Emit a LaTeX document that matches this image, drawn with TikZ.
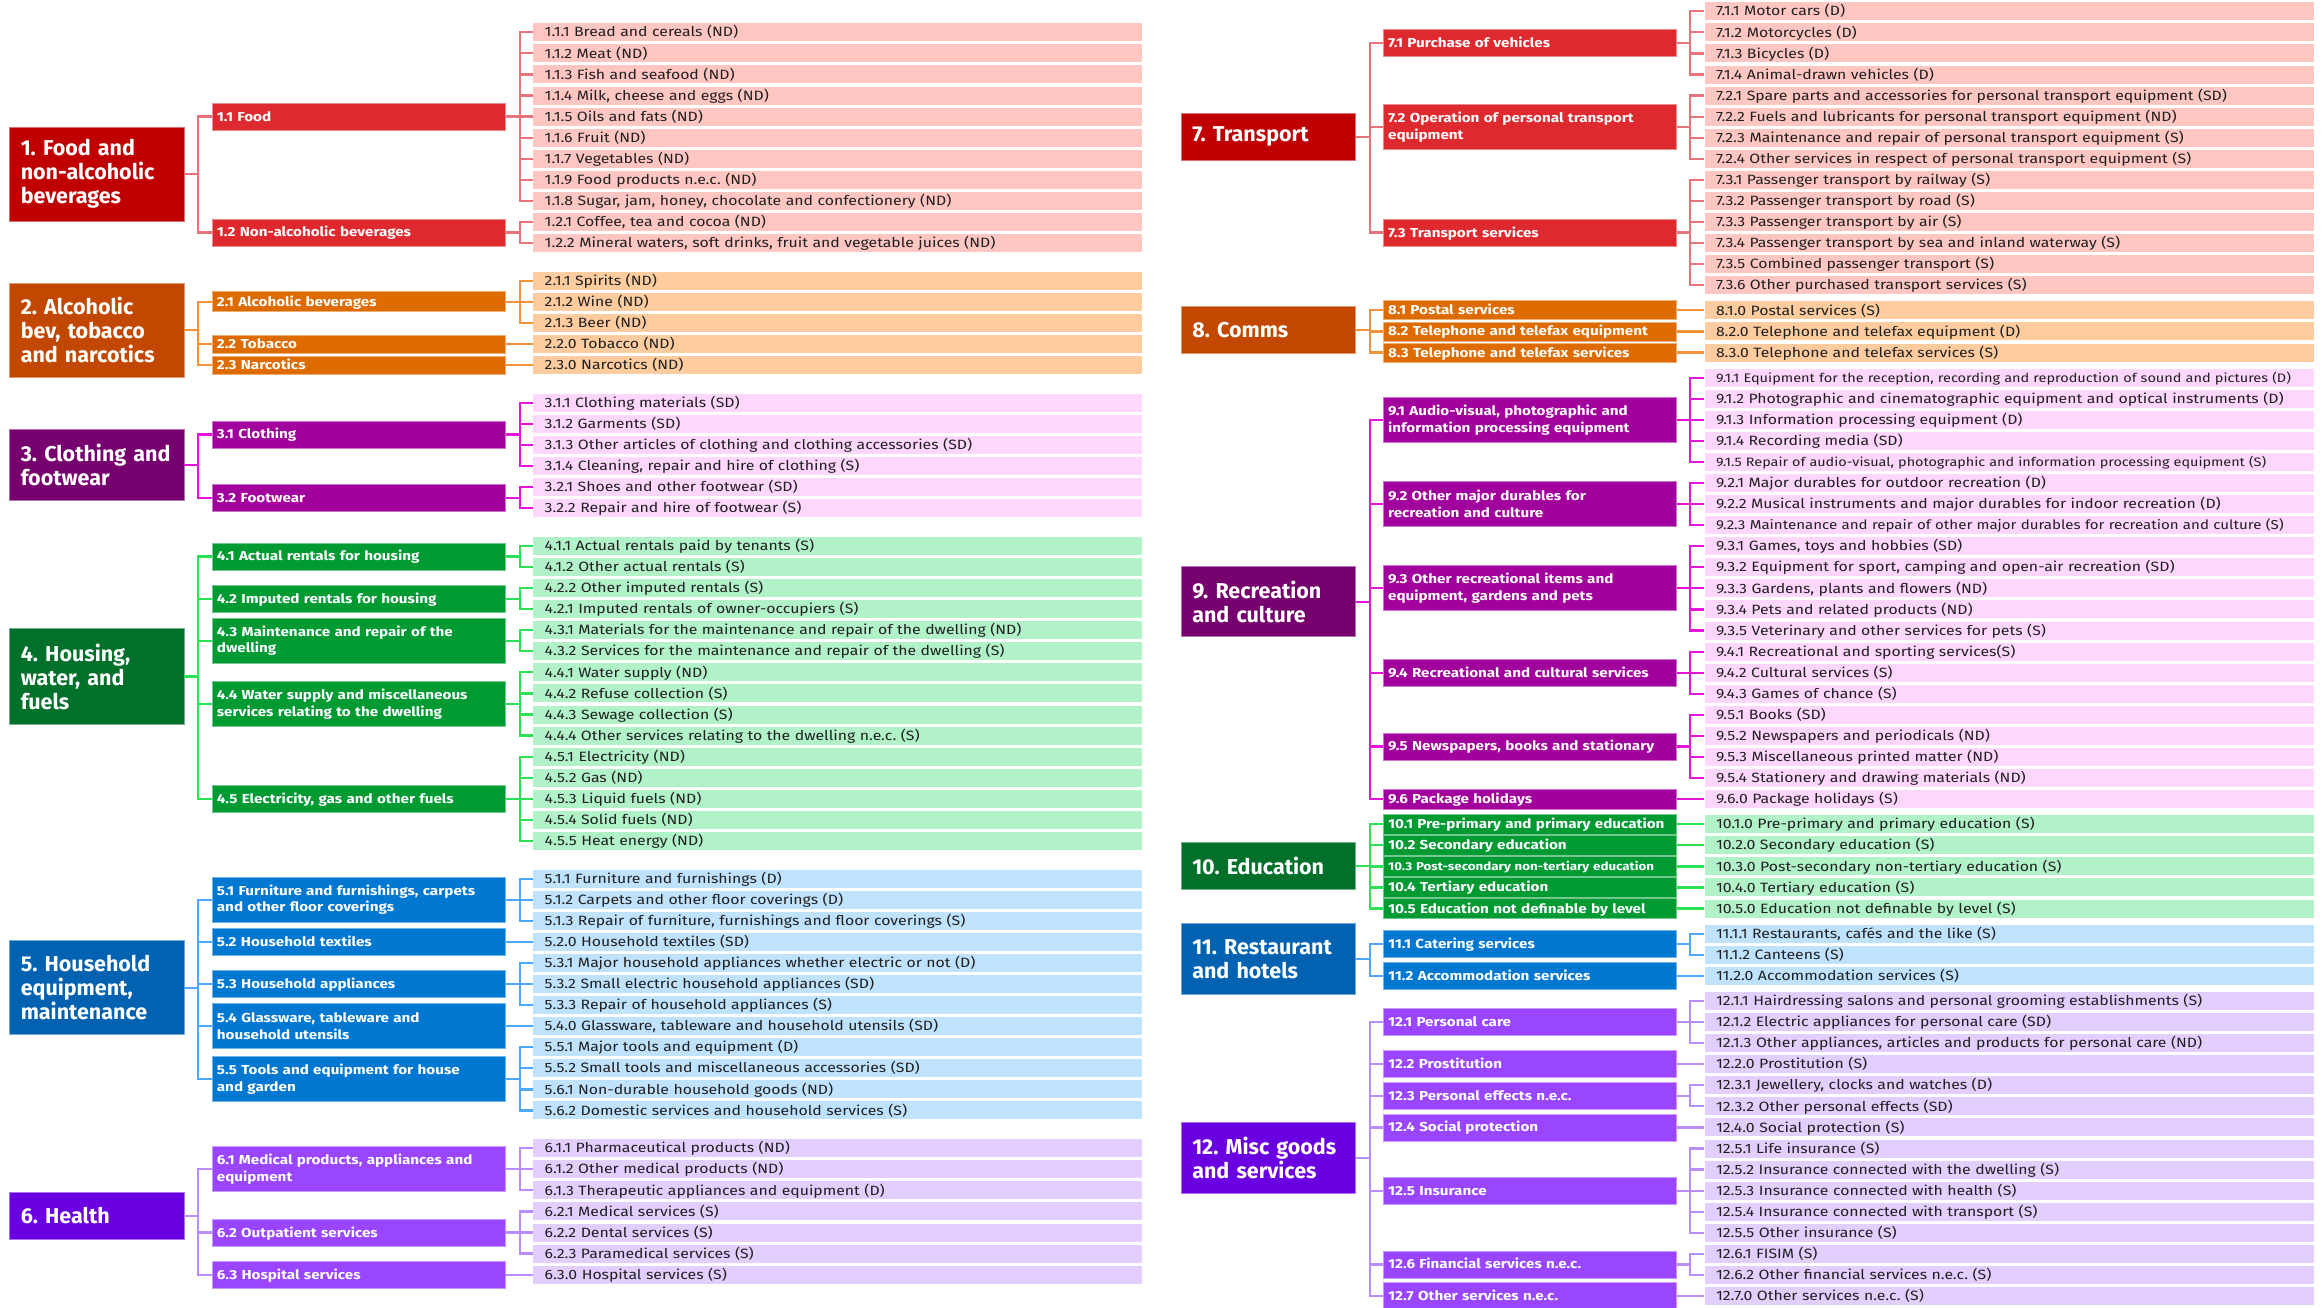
\documentclass[tikz,border=0pt]{standalone}
\usepackage{fontspec}
\setmainfont{Fira Sans}[FakeStretch=1.17]
\newfontfamily\plainfont{Fira Sans}
\frenchspacing
\definecolor{rA}{HTML}{C00000}\definecolor{rB}{HTML}{DE2A2F}\definecolor{rC}{HTML}{FFC6C2}\definecolor{rL}{HTML}{E8737A}
\definecolor{oA}{HTML}{C24800}\definecolor{oB}{HTML}{DD6B00}\definecolor{oC}{HTML}{FFCC9F}\definecolor{oL}{HTML}{F39238}
\definecolor{mA}{HTML}{76006E}\definecolor{mB}{HTML}{A1009D}\definecolor{mC}{HTML}{FFD6FD}\definecolor{mL}{HTML}{E614DA}
\definecolor{gA}{HTML}{00702A}\definecolor{gB}{HTML}{009A33}\definecolor{gC}{HTML}{B1F2C9}\definecolor{gL}{HTML}{2BE155}
\definecolor{bA}{HTML}{0062B0}\definecolor{bB}{HTML}{0077D1}\definecolor{bC}{HTML}{BFE2FF}\definecolor{bL}{HTML}{4FA8FF}
\definecolor{vA}{HTML}{6A00E2}\definecolor{vB}{HTML}{9A45FF}\definecolor{vC}{HTML}{E2CEFF}\definecolor{vL}{HTML}{B98CFF}
\tikzset{
  topbox/.style={anchor=center, fill=#1A, draw=#1A!55!white, line width=0.8pt, text=white,
    font=\plainfont\fontsize{21.5}{24}\bfseries\selectfont, text width=152pt, inner xsep=11.25pt, align=left},
  catbox/.style={anchor=west, fill=#1B, draw=#1B!55!white, line width=0.8pt, text=white,
    font=\fontsize{13}{16.7}\bfseries\selectfont, text width=283.5pt, inner xsep=5pt, inner ysep=0pt, align=left},
  oneline/.style={text height=10.5pt, text depth=1.5pt},
  leafbox/.style={anchor=west, fill=#1C, text=black!88, font=\fontsize{13.5}{15}\selectfont,
    text width=586pt, inner xsep=11.5pt, inner ysep=0pt, minimum height=18pt,
    text height=11pt, text depth=1.7pt, align=left},
  link/.style={draw=#1L, line width=2.2pt}
}
\newcommand\leafL[5]{\node[leafbox=#4] (#1) at (533,{32.3+21.07*#2+16.7*#3}) {#5};}
\newcommand\leafR[5]{\node[leafbox=#4] (#1) at (1704.3,{11.3+21.07*#2+4.1*#3}) {#5};}
\newcommand\catL[8]{\node[catbox=#5,minimum height=#6pt,#7] (#1) at (211.5,{32.3+21.07*(#2+#3)/2+16.7*#4}) {#8};}
\newcommand\catR[8]{\node[catbox=#5,minimum height=#6pt,#7] (#1) at (1382.7,{11.3+21.07*(#2+#3)/2+4.1*#4}) {#8};}
\newcommand\wire[4]{\foreach \c in {#4} \draw[link=#2] (#1.east) -- ++(#3,0) |- (\c.west);}
\begin{document}
\begin{tikzpicture}[x=1pt,y=-1pt]
\fill[white] (0,0) rectangle (2324,1308);
\useasboundingbox (0,0) rectangle (2324,1308);
% ---------------- LEFT ----------------
\node[topbox=r,minimum height=94pt] (g1) at (96.75,174) {\mbox{1. Food and}\\\mbox{non-alcoholic}\\\mbox{beverages}};
\catL{c1-1}{0}{8}{0}{r}{27}{oneline}{1.1 Food}
\catL{c1-2}{9}{10}{0}{r}{27}{oneline}{1.2 Non-alcoholic beverages}
\leafL{l1-1-1}{0}{0}{r}{1.1.1 Bread and cereals (ND)}
\leafL{l1-1-2}{1}{0}{r}{1.1.2 Meat (ND)}
\leafL{l1-1-3}{2}{0}{r}{1.1.3 Fish and seafood (ND)}
\leafL{l1-1-4}{3}{0}{r}{1.1.4 Milk, cheese and eggs (ND)}
\leafL{l1-1-5}{4}{0}{r}{1.1.5 Oils and fats (ND)}
\leafL{l1-1-6}{5}{0}{r}{1.1.6 Fruit (ND)}
\leafL{l1-1-7}{6}{0}{r}{1.1.7 Vegetables (ND)}
\leafL{l1-1-9}{7}{0}{r}{1.1.9 Food products n.e.c. (ND)}
\leafL{l1-1-8}{8}{0}{r}{1.1.8 Sugar, jam, honey, chocolate and confectionery (ND)}
\leafL{l1-2-1}{9}{0}{r}{1.2.1 Coffee, tea and cocoa (ND)}
\leafL{l1-2-2}{10}{0}{r}{1.2.2 Mineral waters, soft drinks, fruit and vegetable juices (ND)}
\wire{g1}{r}{13.5}{c1-1,c1-2}
\wire{c1-1}{r}{14}{l1-1-1,l1-1-2,l1-1-3,l1-1-4,l1-1-5,l1-1-6,l1-1-7,l1-1-9,l1-1-8}
\wire{c1-2}{r}{14}{l1-2-1,l1-2-2}
% group 2
\node[topbox=o,minimum height=94pt] (g2) at (96.75,330.3) {\mbox{2. Alcoholic}\\\mbox{bev, tobacco}\\\mbox{and narcotics}};
\catL{c2-1}{11}{13}{1}{o}{20}{oneline}{2.1 Alcoholic beverages}
\catL{c2-2}{14}{14}{1}{o}{18}{oneline}{2.2 Tobacco}
\catL{c2-3}{15}{15}{1}{o}{18}{oneline}{2.3 Narcotics}
\leafL{l2-1-1}{11}{1}{o}{2.1.1 Spirits (ND)}
\leafL{l2-1-2}{12}{1}{o}{2.1.2 Wine (ND)}
\leafL{l2-1-3}{13}{1}{o}{2.1.3 Beer (ND)}
\leafL{l2-2-0}{14}{1}{o}{2.2.0 Tobacco (ND)}
\leafL{l2-3-0}{15}{1}{o}{2.3.0 Narcotics (ND)}
\wire{g2}{o}{13.5}{c2-1,c2-2,c2-3}
\wire{c2-1}{o}{14}{l2-1-1,l2-1-2,l2-1-3}
\wire{c2-2}{o}{14}{l2-2-0}
\wire{c2-3}{o}{14}{l2-3-0}
% group 3
\node[topbox=m,minimum height=71pt] (g3) at (96.75,465) {\mbox{3. Clothing and}\\\mbox{footwear}};
\catL{c3-1}{16}{19}{2}{m}{27}{oneline}{3.1 Clothing}
\catL{c3-2}{20}{21}{2}{m}{27}{oneline}{3.2 Footwear}
\leafL{l3-1-1}{16}{2}{m}{3.1.1 Clothing materials (SD)}
\leafL{l3-1-2}{17}{2}{m}{3.1.2 Garments (SD)}
\leafL{l3-1-3}{18}{2}{m}{3.1.3 Other articles of clothing and clothing accessories (SD)}
\leafL{l3-1-4}{19}{2}{m}{3.1.4 Cleaning, repair and hire of clothing (S)}
\leafL{l3-2-1}{20}{2}{m}{3.2.1 Shoes and other footwear (SD)}
\leafL{l3-2-2}{21}{2}{m}{3.2.2 Repair and hire of footwear (S)}
\wire{g3}{m}{13.5}{c3-1,c3-2}
\wire{c3-1}{m}{14}{l3-1-1,l3-1-2,l3-1-3,l3-1-4}
\wire{c3-2}{m}{14}{l3-2-1,l3-2-2}
% group 4
\node[topbox=g,minimum height=96pt] (g4) at (96.75,676.5) {\mbox{4. Housing,}\\\mbox{water, and}\\\mbox{fuels}};
\catL{c4-1}{22}{23}{3}{g}{27}{oneline}{4.1 Actual rentals for housing}
\catL{c4-2}{24}{25}{3}{g}{27}{oneline}{4.2 Imputed rentals for housing}
\catL{c4-3}{26}{27}{3}{g}{45}{}{4.3 Maintenance and repair of the\\dwelling}
\catL{c4-4}{28}{31}{3}{g}{45}{}{4.4 Water supply and miscellaneous\\services relating to the dwelling}
\catL{c4-5}{32}{36}{3}{g}{27}{oneline}{4.5 Electricity, gas and other fuels}
\leafL{l4-1-1}{22}{3}{g}{4.1.1 Actual rentals paid by tenants (S)}
\leafL{l4-1-2}{23}{3}{g}{4.1.2 Other actual rentals (S)}
\leafL{l4-2-2}{24}{3}{g}{4.2.2 Other imputed rentals (S)}
\leafL{l4-2-1}{25}{3}{g}{4.2.1 Imputed rentals of owner-occupiers (S)}
\leafL{l4-3-1}{26}{3}{g}{4.3.1 Materials for the maintenance and repair of the dwelling (ND)}
\leafL{l4-3-2}{27}{3}{g}{4.3.2 Services for the maintenance and repair of the dwelling (S)}
\leafL{l4-4-1}{28}{3}{g}{4.4.1 Water supply (ND)}
\leafL{l4-4-2}{29}{3}{g}{4.4.2 Refuse collection (S)}
\leafL{l4-4-3}{30}{3}{g}{4.4.3 Sewage collection (S)}
\leafL{l4-4-4}{31}{3}{g}{4.4.4 Other services relating to the dwelling n.e.c. (S)}
\leafL{l4-5-1}{32}{3}{g}{4.5.1 Electricity (ND)}
\leafL{l4-5-2}{33}{3}{g}{4.5.2 Gas (ND)}
\leafL{l4-5-3}{34}{3}{g}{4.5.3 Liquid fuels (ND)}
\leafL{l4-5-4}{35}{3}{g}{4.5.4 Solid fuels (ND)}
\leafL{l4-5-5}{36}{3}{g}{4.5.5 Heat energy (ND)}
\wire{g4}{g}{13.5}{c4-1,c4-2,c4-3,c4-4,c4-5}
\wire{c4-1}{g}{14}{l4-1-1,l4-1-2}
\wire{c4-2}{g}{14}{l4-2-2,l4-2-1}
\wire{c4-3}{g}{14}{l4-3-1,l4-3-2}
\wire{c4-4}{g}{14}{l4-4-1,l4-4-2,l4-4-3,l4-4-4}
\wire{c4-5}{g}{14}{l4-5-1,l4-5-2,l4-5-3,l4-5-4,l4-5-5}
% group 5
\node[topbox=b,minimum height=94pt] (g5) at (96.75,987.8) {\mbox{5. Household}\\\mbox{equipment,}\\\mbox{maintenance}};
\catL{c5-1}{37}{39}{4}{b}{45}{}{5.1 Furniture and furnishings, carpets\\and other floor coverings}
\catL{c5-2}{40}{40}{4}{b}{27}{oneline}{5.2 Household textiles}
\catL{c5-3}{41}{43}{4}{b}{27}{oneline}{5.3 Household appliances}
\catL{c5-4}{44}{44}{4}{b}{45}{}{5.4 Glassware, tableware and\\household utensils}
\catL{c5-5}{45}{48}{4}{b}{45}{}{5.5 Tools and equipment for house\\and garden}
\leafL{l5-1-1}{37}{4}{b}{5.1.1 Furniture and furnishings (D)}
\leafL{l5-1-2}{38}{4}{b}{5.1.2 Carpets and other floor coverings (D)}
\leafL{l5-1-3}{39}{4}{b}{5.1.3 Repair of furniture, furnishings and floor coverings (S)}
\leafL{l5-2-0}{40}{4}{b}{5.2.0 Household textiles (SD)}
\leafL{l5-3-1}{41}{4}{b}{5.3.1 Major household appliances whether electric or not (D)}
\leafL{l5-3-2}{42}{4}{b}{5.3.2 Small electric household appliances (SD)}
\leafL{l5-3-3}{43}{4}{b}{5.3.3 Repair of household appliances (S)}
\leafL{l5-4-0}{44}{4}{b}{5.4.0 Glassware, tableware and household utensils (SD)}
\leafL{l5-5-1}{45}{4}{b}{5.5.1 Major tools and equipment (D)}
\leafL{l5-5-2}{46}{4}{b}{5.5.2 Small tools and miscellaneous accessories (SD)}
\leafL{l5-6-1}{47}{4}{b}{5.6.1 Non-durable household goods (ND)}
\leafL{l5-6-2}{48}{4}{b}{5.6.2 Domestic services and household services (S)}
\wire{g5}{b}{13.5}{c5-1,c5-2,c5-3,c5-4,c5-5}
\wire{c5-1}{b}{14}{l5-1-1,l5-1-2,l5-1-3}
\wire{c5-2}{b}{14}{l5-2-0}
\wire{c5-3}{b}{14}{l5-3-1,l5-3-2,l5-3-3}
\wire{c5-4}{b}{14}{l5-4-0}
\wire{c5-5}{b}{14}{l5-5-1,l5-5-2,l5-6-1,l5-6-2}
% group 6
\node[topbox=v,minimum height=47pt] (g6) at (96.75,1216) {\mbox{6. Health}};
\catL{c6-1}{49}{51}{5}{v}{45}{}{6.1 Medical products, appliances and\\equipment}
\catL{c6-2}{52}{54}{5}{v}{27}{oneline}{6.2 Outpatient services}
\catL{c6-3}{55}{55}{5}{v}{27}{oneline}{6.3 Hospital services}
\leafL{l6-1-1}{49}{5}{v}{6.1.1 Pharmaceutical products (ND)}
\leafL{l6-1-2}{50}{5}{v}{6.1.2 Other medical products (ND)}
\leafL{l6-1-3}{51}{5}{v}{6.1.3 Therapeutic appliances and equipment (D)}
\leafL{l6-2-1}{52}{5}{v}{6.2.1 Medical services (S)}
\leafL{l6-2-2}{53}{5}{v}{6.2.2 Dental services (S)}
\leafL{l6-2-3}{54}{5}{v}{6.2.3 Paramedical services (S)}
\leafL{l6-3-0}{55}{5}{v}{6.3.0 Hospital services (S)}
\wire{g6}{v}{13.5}{c6-1,c6-2,c6-3}
\wire{c6-1}{v}{14}{l6-1-1,l6-1-2,l6-1-3}
\wire{c6-2}{v}{14}{l6-2-1,l6-2-2,l6-2-3}
\wire{c6-3}{v}{14}{l6-3-0}
% ---------------- RIGHT ----------------
\node[topbox=r,minimum height=47pt] (g7) at (1268.25,136.8) {\mbox{7. Transport}};
\catR{c7-1}{0}{3}{0}{r}{27}{oneline}{7.1 Purchase of vehicles}
\catR{c7-2}{4}{7}{0}{r}{45}{}{7.2 Operation of personal transport\\equipment}
\catR{c7-3}{8}{13}{0}{r}{27}{oneline}{7.3 Transport services}
\leafR{l7-1-1}{0}{0}{r}{7.1.1 Motor cars (D)}
\leafR{l7-1-2}{1}{0}{r}{7.1.2 Motorcycles (D)}
\leafR{l7-1-3}{2}{0}{r}{7.1.3 Bicycles (D)}
\leafR{l7-1-4}{3}{0}{r}{7.1.4 Animal-drawn vehicles (D)}
\leafR{l7-2-1}{4}{0}{r}{7.2.1 Spare parts and accessories for personal transport equipment (SD)}
\leafR{l7-2-2}{5}{0}{r}{7.2.2 Fuels and lubricants for personal transport equipment (ND)}
\leafR{l7-2-3}{6}{0}{r}{7.2.3 Maintenance and repair of personal transport equipment (S)}
\leafR{l7-2-4}{7}{0}{r}{7.2.4 Other services in respect of personal transport equipment (S)}
\leafR{l7-3-1}{8}{0}{r}{7.3.1 Passenger transport by railway (S)}
\leafR{l7-3-2}{9}{0}{r}{7.3.2 Passenger transport by road (S)}
\leafR{l7-3-3}{10}{0}{r}{7.3.3 Passenger transport by air (S)}
\leafR{l7-3-4}{11}{0}{r}{7.3.4 Passenger transport by sea and inland waterway (S)}
\leafR{l7-3-5}{12}{0}{r}{7.3.5 Combined passenger transport (S)}
\leafR{l7-3-6}{13}{0}{r}{7.3.6 Other purchased transport services (S)}
\wire{g7}{r}{14}{c7-1,c7-2,c7-3}
\wire{c7-1}{r}{13}{l7-1-1,l7-1-2,l7-1-3,l7-1-4}
\wire{c7-2}{r}{13}{l7-2-1,l7-2-2,l7-2-3,l7-2-4}
\wire{c7-3}{r}{13}{l7-3-1,l7-3-2,l7-3-3,l7-3-4,l7-3-5,l7-3-6}
% group 8
\node[topbox=o,minimum height=47pt] (g8) at (1268.25,330.2) {\mbox{8. Comms}};
\catR{c8-1}{14}{14}{1}{o}{19}{oneline}{8.1 Postal services}
\catR{c8-2}{15}{15}{1}{o}{19}{oneline}{8.2 Telephone and telefax equipment}
\catR{c8-3}{16}{16}{1}{o}{19}{oneline}{8.3 Telephone and telefax services}
\leafR{l8-1-0}{14}{1}{o}{8.1.0 Postal services (S)}
\leafR{l8-2-0}{15}{1}{o}{8.2.0 Telephone and telefax equipment (D)}
\leafR{l8-3-0}{16}{1}{o}{8.3.0 Telephone and telefax services (S)}
\wire{g8}{o}{14}{c8-1,c8-2,c8-3}
\wire{c8-1}{o}{13}{l8-1-0}
\wire{c8-2}{o}{13}{l8-2-0}
\wire{c8-3}{o}{13}{l8-3-0}
% group 9
\node[topbox=m,minimum height=70pt] (g9) at (1268.25,601.8) {\mbox{9. Recreation}\\\mbox{and culture}};
\catR{c9-1}{17}{21}{2}{m}{45}{}{9.1 Audio-visual, photographic and\\information processing equipment}
\catR{c9-2}{22}{24}{2}{m}{45}{}{9.2 Other major durables for\\recreation and culture}
\catR{c9-3}{25}{29}{2}{m}{45}{}{9.3 Other recreational items and\\equipment, gardens and pets}
\catR{c9-4}{30}{32}{2}{m}{27}{oneline}{9.4 Recreational and cultural services}
\catR{c9-5}{33}{36}{2}{m}{27}{oneline}{9.5 Newspapers, books and stationary}
\catR{c9-6}{37}{37}{2}{m}{20}{oneline}{9.6 Package holidays}
\node[leafbox=m,font=\fontsize{12.4}{14}\selectfont] (l9-1-1) at (1704.3,{11.3+21.07*17+4.1*2}) {\mbox{9.1.1 Equipment for the reception, recording and reproduction of sound and pictures (D)}};
\leafR{l9-1-2}{18}{2}{m}{9.1.2 Photographic and cinematographic equipment and optical instruments (D)}
\leafR{l9-1-3}{19}{2}{m}{9.1.3 Information processing equipment (D)}
\leafR{l9-1-4}{20}{2}{m}{9.1.4 Recording media (SD)}
\node[leafbox=m,font=\fontsize{12.3}{14}\selectfont] (l9-1-5) at (1704.3,{11.3+21.07*21+4.1*2}) {\mbox{9.1.5 Repair of audio-visual, photographic and information processing equipment (S)}};
\leafR{l9-2-1}{22}{2}{m}{9.2.1 Major durables for outdoor recreation (D)}
\leafR{l9-2-2}{23}{2}{m}{9.2.2 Musical instruments and major durables for indoor recreation (D)}
\node[leafbox=m,font=\fontsize{12.9}{14}\selectfont] (l9-2-3) at (1704.3,{11.3+21.07*24+4.1*2}) {\mbox{9.2.3 Maintenance and repair of other major durables for recreation and culture (S)}};
\leafR{l9-3-1}{25}{2}{m}{9.3.1 Games, toys and hobbies (SD)}
\leafR{l9-3-2}{26}{2}{m}{9.3.2 Equipment for sport, camping and open-air recreation (SD)}
\leafR{l9-3-3}{27}{2}{m}{9.3.3 Gardens, plants and flowers (ND)}
\leafR{l9-3-4}{28}{2}{m}{9.3.4 Pets and related products (ND)}
\leafR{l9-3-5}{29}{2}{m}{9.3.5 Veterinary and other services for pets (S)}
\leafR{l9-4-1}{30}{2}{m}{9.4.1 Recreational and sporting services(S)}
\leafR{l9-4-2}{31}{2}{m}{9.4.2 Cultural services (S)}
\leafR{l9-4-3}{32}{2}{m}{9.4.3 Games of chance (S)}
\leafR{l9-5-1}{33}{2}{m}{9.5.1 Books (SD)}
\leafR{l9-5-2}{34}{2}{m}{9.5.2 Newspapers and periodicals (ND)}
\leafR{l9-5-3}{35}{2}{m}{9.5.3 Miscellaneous printed matter (ND)}
\leafR{l9-5-4}{36}{2}{m}{9.5.4 Stationery and drawing materials (ND)}
\leafR{l9-6-0}{37}{2}{m}{9.6.0 Package holidays (S)}
\wire{g9}{m}{14}{c9-1,c9-2,c9-3,c9-4,c9-5,c9-6}
\wire{c9-1}{m}{13}{l9-1-1,l9-1-2,l9-1-3,l9-1-4,l9-1-5}
\wire{c9-2}{m}{13}{l9-2-1,l9-2-2,l9-2-3}
\wire{c9-3}{m}{13}{l9-3-1,l9-3-2,l9-3-3,l9-3-4,l9-3-5}
\wire{c9-4}{m}{13}{l9-4-1,l9-4-2,l9-4-3}
\wire{c9-5}{m}{13}{l9-5-1,l9-5-2,l9-5-3,l9-5-4}
\wire{c9-6}{m}{13}{l9-6-0}
% group 10
\node[topbox=g,minimum height=47pt] (g10) at (1268.25,865.8) {\mbox{10. Education}};
\catR{c10-1}{38}{38}{3}{g}{19.5}{oneline}{\mbox{10.1 Pre-primary and primary education}}
\catR{c10-2}{39}{39}{3}{g}{19.5}{oneline}{10.2 Secondary education}
\catR{c10-3}{40}{40}{3}{g}{19.5}{oneline,font=\fontsize{11.4}{13}\bfseries\selectfont}{\mbox{10.3 Post-secondary non-tertiary education}}
\catR{c10-4}{41}{41}{3}{g}{19.5}{oneline}{10.4 Tertiary education}
\catR{c10-5}{42}{42}{3}{g}{19.5}{oneline}{10.5 Education not definable by level}
\leafR{l10-1-0}{38}{3}{g}{10.1.0 Pre-primary and primary education (S)}
\leafR{l10-2-0}{39}{3}{g}{10.2.0 Secondary education (S)}
\leafR{l10-3-0}{40}{3}{g}{10.3.0 Post-secondary non-tertiary education (S)}
\leafR{l10-4-0}{41}{3}{g}{10.4.0 Tertiary education (S)}
\leafR{l10-5-0}{42}{3}{g}{10.5.0 Education not definable by level (S)}
\wire{g10}{g}{14}{c10-1,c10-2,c10-3,c10-4,c10-5}
\wire{c10-1}{g}{13}{l10-1-0}
\wire{c10-2}{g}{13}{l10-2-0}
\wire{c10-3}{g}{13}{l10-3-0}
\wire{c10-4}{g}{13}{l10-4-0}
\wire{c10-5}{g}{13}{l10-5-0}
% group 11
\node[topbox=b,minimum height=71pt] (g11) at (1268.25,958.8) {\mbox{11. Restaurant}\\\mbox{and hotels}};
\catR{c11-1}{43}{44}{4}{b}{27}{oneline}{11.1 Catering services}
\catR{c11-2}{45}{45}{4}{b}{27}{oneline}{11.2 Accommodation services}
\leafR{l11-1-1}{43}{4}{b}{11.1.1 Restaurants, cafés and the like (S)}
\leafR{l11-1-2}{44}{4}{b}{11.1.2 Canteens (S)}
\leafR{l11-2-0}{45}{4}{b}{11.2.0 Accommodation services (S)}
\wire{g11}{b}{14}{c11-1,c11-2}
\wire{c11-1}{b}{13}{l11-1-1,l11-1-2}
\wire{c11-2}{b}{13}{l11-2-0}
% group 12
\node[topbox=v,minimum height=71pt] (g12) at (1268.25,1157.8) {\mbox{12. Misc goods}\\\mbox{and services}};
\catR{c12-1}{46}{48}{5}{v}{27}{oneline}{12.1 Personal care}
\catR{c12-2}{49}{49}{5}{v}{27}{oneline}{12.2 Prostitution}
\catR{c12-3}{50}{51}{5}{v}{27}{oneline}{12.3 Personal effects n.e.c.}
\catR{c12-4}{52}{52}{5}{v}{27}{oneline}{12.4 Social protection}
\catR{c12-5}{53}{57}{5}{v}{27}{oneline}{12.5 Insurance}
\catR{c12-6}{58}{59}{5}{v}{27}{oneline}{12.6 Financial services n.e.c.}
\catR{c12-7}{60}{60}{5}{v}{27}{oneline}{12.7 Other services n.e.c.}
\leafR{l12-1-1}{46}{5}{v}{12.1.1 Hairdressing salons and personal grooming establishments (S)}
\leafR{l12-1-2}{47}{5}{v}{12.1.2 Electric appliances for personal care (SD)}
\leafR{l12-1-3}{48}{5}{v}{12.1.3 Other appliances, articles and products for personal care (ND)}
\leafR{l12-2-0}{49}{5}{v}{12.2.0 Prostitution (S)}
\leafR{l12-3-1}{50}{5}{v}{12.3.1 Jewellery, clocks and watches (D)}
\leafR{l12-3-2}{51}{5}{v}{12.3.2 Other personal effects (SD)}
\leafR{l12-4-0}{52}{5}{v}{12.4.0 Social protection (S)}
\leafR{l12-5-1}{53}{5}{v}{12.5.1 Life insurance (S)}
\leafR{l12-5-2}{54}{5}{v}{12.5.2 Insurance connected with the dwelling (S)}
\leafR{l12-5-3}{55}{5}{v}{12.5.3 Insurance connected with health (S)}
\leafR{l12-5-4}{56}{5}{v}{12.5.4 Insurance connected with transport (S)}
\leafR{l12-5-5}{57}{5}{v}{12.5.5 Other insurance (S)}
\leafR{l12-6-1}{58}{5}{v}{12.6.1 FISIM (S)}
\leafR{l12-6-2}{59}{5}{v}{12.6.2 Other financial services n.e.c. (S)}
\leafR{l12-7-0}{60}{5}{v}{12.7.0 Other services n.e.c. (S)}
\wire{g12}{v}{14}{c12-1,c12-2,c12-3,c12-4,c12-5,c12-6,c12-7}
\wire{c12-1}{v}{13}{l12-1-1,l12-1-2,l12-1-3}
\wire{c12-2}{v}{13}{l12-2-0}
\wire{c12-3}{v}{13}{l12-3-1,l12-3-2}
\wire{c12-4}{v}{13}{l12-4-0}
\wire{c12-5}{v}{13}{l12-5-1,l12-5-2,l12-5-3,l12-5-4,l12-5-5}
\wire{c12-6}{v}{13}{l12-6-1,l12-6-2}
\wire{c12-7}{v}{13}{l12-7-0}
\end{tikzpicture}
\end{document}
